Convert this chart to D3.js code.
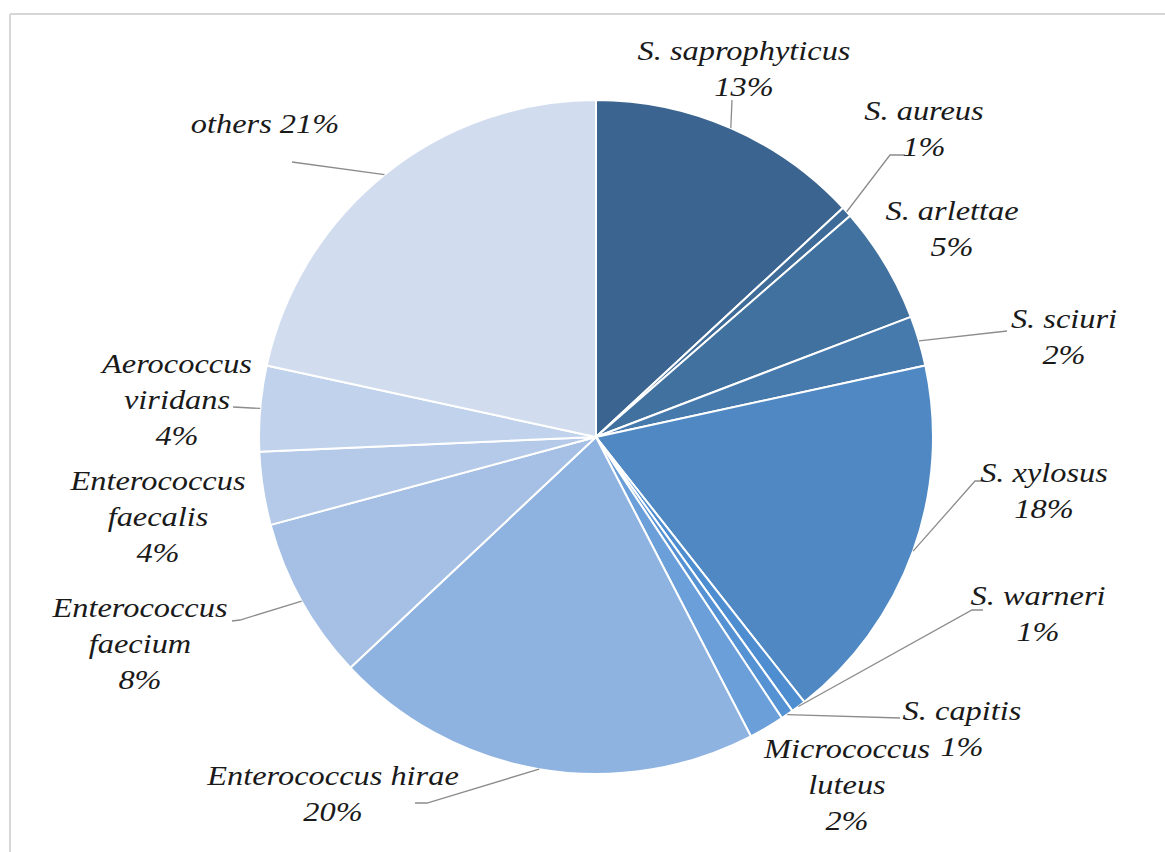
<!DOCTYPE html>
<html>
<head>
<meta charset="utf-8">
<script src="https://cdn.jsdelivr.net/npm/d3@7/dist/d3.min.js"></script>
<style>
body{margin:0;background:#fff;}
</style>
</head>
<body>
<script>
// slice data, clockwise from 12 o'clock
var species=["S. saprophyticus","S. aureus","S. arlettae","S. sciuri","S. xylosus","S. warneri","S. capitis","Micrococcus luteus","Enterococcus hirae","Enterococcus faecium","Enterococcus faecalis","Aerococcus viridans","others"]
var shares=[13.1,0.5,5.6,2.4,17.8,0.7,0.6,1.7,20.6,7.8,3.5,4.1,21.6]
var pctLabels=["13%","1%","5%","2%","18%","1%","1%","2%","20%","8%","4%","4%","21%"]
var colors=["#3b6590","#3e6b98","#41729f","#4679ac","#4f88c2","#4d8dd0","#5592d4","#6a9fd9","#8fb3e0","#a5c0e4","#b4cae8","#c1d3ec","#d1ddef"]

// label layout (text lines, centre x, first baseline, leader points after the arc point)
var labelLines=[
  ["S. saprophyticus","13%"],["S. aureus","1%"],["S. arlettae","5%"],["S. sciuri","2%"],
  ["S. xylosus","18%"],["S. warneri","1%"],["S. capitis","1%"],["Micrococcus","luteus","2%"],
  ["Enterococcus hirae","20%"],["Enterococcus","faecium","8%"],["Enterococcus","faecalis","4%"],
  ["Aerococcus","viridans","4%"],["others 21%"]
]
var labelPos=[[744,60],[924,120],[952,220],[1064,328],[1044,482],[1038,605],[962,720],[847,758],[333,785],[140,617],[158,490],[177,373],[265,133]]
var leaders=[
  [[732,100]],[[890,155],[905,155]],null,[[1007,331]],
  [[975,481],[983,481]],[[972,610],[983,610]],[[900,718]],null,
  [[427,803],[415,803]],[[240,620],[232,621]],null,[[233,407]],[[292,162]]
]

var screen={width:1165,height:852}
var cx=596,cy=437,radius=337

var svg=d3.select("body")
          .append("svg")
          .attr("width",screen.width)
          .attr("height",screen.height)

// frame lines
svg.append("line")
   .attr("x1",10).attr("y1",14).attr("x2",screen.width).attr("y2",14)
   .attr("stroke","#d6d6d6").attr("stroke-width",2)
svg.append("line")
   .attr("x1",10).attr("y1",14).attr("x2",10).attr("y2",screen.height)
   .attr("stroke","#d6d6d6").attr("stroke-width",2)

var pie=d3.pie().sort(null).value(function(d){return d;})
var arcs=pie(shares)
var arc=d3.arc().innerRadius(0).outerRadius(radius)

var g=svg.append("g").attr("transform","translate("+cx+","+cy+")")
g.selectAll("path")
 .data(arcs)
 .enter()
 .append("path")
 .attr("d",arc)
 .attr("fill",function(d,i){return colors[i]})
 .attr("stroke","#ffffff")
 .attr("stroke-width",2)
 .attr("stroke-linejoin","round")

// leader lines from the slice edge at mid angle
var edgeArc=d3.arc().innerRadius(radius).outerRadius(radius)
arcs.forEach(function(d,i){
  if(!leaders[i]){return}
  var p=edgeArc.centroid(d)
  var pts=[[p[0]+cx,p[1]+cy]].concat(leaders[i])
  svg.append("path")
     .attr("d",d3.line()(pts))
     .attr("fill","none")
     .attr("stroke","#8c8c8c")
     .attr("stroke-width",1.3)
})

// labels
labelLines.forEach(function(lines,i){
  var lg=svg.append("g")
            .attr("transform","translate("+labelPos[i][0]+","+labelPos[i][1]+") scale(1.2,1)")
  lg.selectAll("text")
    .data(lines)
    .enter()
    .append("text")
    .attr("x",0)
    .attr("y",function(d,j){return j*36})
    .attr("text-anchor","middle")
    .style("font-family","'Liberation Serif','Times New Roman',serif")
    .style("font-style","italic")
    .style("font-size","27px")
    .attr("fill","#1a1a1a")
    .text(function(d){return d})
})
</script>
</body>
</html>
